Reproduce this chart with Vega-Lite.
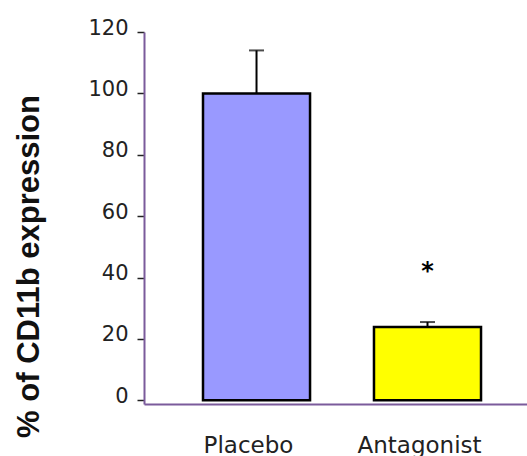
{
  "$schema": "https://vega.github.io/schema/vega-lite/v6.json",
  "width": 383,
  "height": 372,
  "autosize": "none",
  "padding": {"left": 144, "top": 32, "right": 0, "bottom": 52},
  "background": "white",
  "config": {"view": {"stroke": null}},
  "data": {
    "values": [
      {"group": "Placebo", "value": 100, "upper": 114, "sig": ""},
      {"group": "Antagonist", "value": 23.9, "upper": 25.5, "sig": "*"}
    ]
  },
  "encoding": {
    "x": {
      "field": "group",
      "type": "nominal",
      "sort": ["Placebo", "Antagonist"],
      "scale": {"paddingInner": 0.374, "paddingOuter": 0.307, "align": 0.562},
      "axis": {
        "title": null,
        "labelAngle": 0,
        "ticks": false,
        "domainColor": "#7b5b9b",
        "domainWidth": 2,
        "labelFont": "DejaVu Sans",
        "labelFontSize": 23,
        "labelPadding": 30,
        "labelColor": "#222222",
        "labelOffset": -8
      }
    }
  },
  "layer": [
    {
      "mark": {"type": "bar", "stroke": "black", "strokeWidth": 2.5},
      "encoding": {
        "y": {
          "field": "value",
          "type": "quantitative",
          "scale": {"domain": [-1.2, 120], "nice": false, "zero": false},
          "axis": {
            "values": [0, 20, 40, 60, 80, 100, 120],
            "grid": false,
            "domainColor": "#7b5b9b",
            "domainWidth": 2,
            "tickColor": "#222222",
            "tickSize": 7,
            "tickWidth": 1.5,
            "labelFont": "DejaVu Sans",
            "labelFontSize": 21,
            "labelColor": "#222222",
            "labelPadding": 9,
            "labelOffset": -4,
            "title": "% of CD11b expression",
            "titleFont": "Liberation Sans",
            "titleFontWeight": "bold",
            "titleFontSize": 31,
            "titleColor": "#111111",
            "titleAngle": -90,
            "titleAlign": "center",
            "titleBaseline": "alphabetic",
            "titleX": -106,
            "titleY": 234
          }
        },
        "color": {
          "field": "group",
          "type": "nominal",
          "scale": {"domain": ["Placebo", "Antagonist"], "range": ["#9999ff", "#ffff00"]},
          "legend": null
        }
      }
    },
    {
      "mark": {"type": "rule", "color": "black", "strokeWidth": 2},
      "encoding": {
        "y": {"field": "value", "type": "quantitative"},
        "y2": {"field": "upper"}
      }
    },
    {
      "mark": {"type": "tick", "color": "black", "size": 15, "thickness": 2},
      "encoding": {
        "y": {"field": "upper", "type": "quantitative"}
      }
    },
    {
      "mark": {"type": "text", "font": "DejaVu Sans", "fontSize": 24, "fontWeight": "bold", "baseline": "alphabetic", "dy": -43, "color": "black"},
      "encoding": {
        "y": {"field": "upper", "type": "quantitative"},
        "text": {"field": "sig"}
      }
    }
  ]
}
